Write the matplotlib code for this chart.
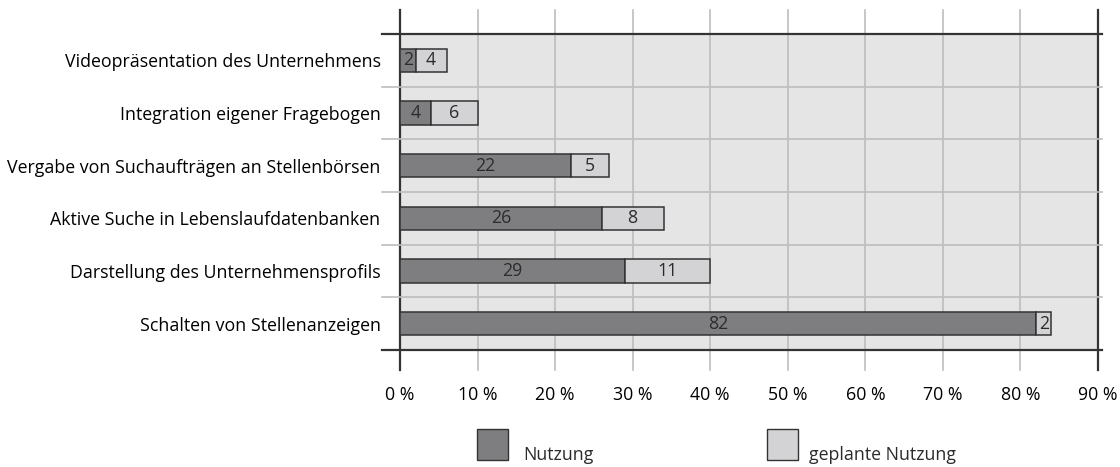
import numpy as np
import matplotlib
matplotlib.use("Agg")
import matplotlib.pyplot as plt
from matplotlib.patches import Rectangle

matplotlib.rcParams.update({
    "font.family": ["Open Sans", "DejaVu Sans"],
    "font.size": 12.8,
    "text.color": "#2b2b2b",
})

categories = [
    "Videopräsentation des Unternehmens",
    "Integration eigener Fragebogen",
    "Vergabe von Suchaufträgen an Stellenbörsen",
    "Aktive Suche in Lebenslaufdatenbanken",
    "Darstellung des Unternehmensprofils",
    "Schalten von Stellenanzeigen",
]
nutzung = [2, 4, 22, 26, 29, 82]
geplant = [4, 6, 5, 8, 11, 2]
xticks = [0, 10, 20, 30, 40, 50, 60, 70, 80, 90]
series_labels = ["Nutzung", "geplante Nutzung"]

dark = "#7e7e81"
light = "#d3d3d5"
bg = "#e5e5e6"
grid = "#bdbdbd"
line = "#333333"

fig = plt.figure(figsize=(11.2, 4.67), dpi=100)
ax = fig.add_axes([400 / 1120, 117 / 467, 698 / 1120, 316 / 467])
ax.set_facecolor(bg)
ax.set_xlim(0, 90)
ax.set_ylim(len(categories), 0)

for s in ax.spines.values():
    s.set_visible(False)

# lines run a bit past the shaded area, like little ticks
y_lo, y_hi = -20 / 316, 1 + 24 / 316
x_lo, x_hi = -18 / 698, 1 + 4 / 698
for x in xticks:
    color, lw = (line, 1.6) if x in (0, 90) else (grid, 1.2)
    ax.plot([x, x], [y_lo, y_hi], color=color, lw=lw, clip_on=False,
            transform=ax.get_xaxis_transform(), zorder=1)
for y in range(len(categories) + 1):
    color, lw = (line, 1.6) if y in (0, len(categories)) else (grid, 1.2)
    ax.plot([x_lo, x_hi], [y, y], color=color, lw=lw, clip_on=False,
            transform=ax.get_yaxis_transform(), zorder=1)

pos = np.arange(len(categories)) + 0.5
h = 0.44
ax.barh(pos, nutzung, height=h, color=dark, edgecolor=line, lw=1.1, zorder=3)
ax.barh(pos, geplant, left=nutzung, height=h, color=light, edgecolor=line,
        lw=1.1, zorder=3)

for p, a, b in zip(pos, nutzung, geplant):
    ax.text(a / 2, p, str(a), ha="center", va="center", zorder=4)
    ax.text(a + b / 2, p, str(b), ha="center", va="center", zorder=4)

ax.set_yticks(pos, categories)
ax.set_xticks(xticks, [f"{x} %" for x in xticks])
ax.tick_params(axis="y", length=0, pad=14)
ax.tick_params(axis="x", length=0, pad=26)

# legend
for x0, xt, col, lab in [(477, 523, dark, series_labels[0]),
                         (767, 809, light, series_labels[1])]:
    fig.add_artist(Rectangle((x0 / 1120, 7 / 467), 31 / 1120, 31 / 467,
                             transform=fig.transFigure, facecolor=col,
                             edgecolor=line, lw=1.0))
    fig.text(xt / 1120, 7 / 467, lab, ha="left", va="baseline")

fig.savefig("out.png", dpi=100)
